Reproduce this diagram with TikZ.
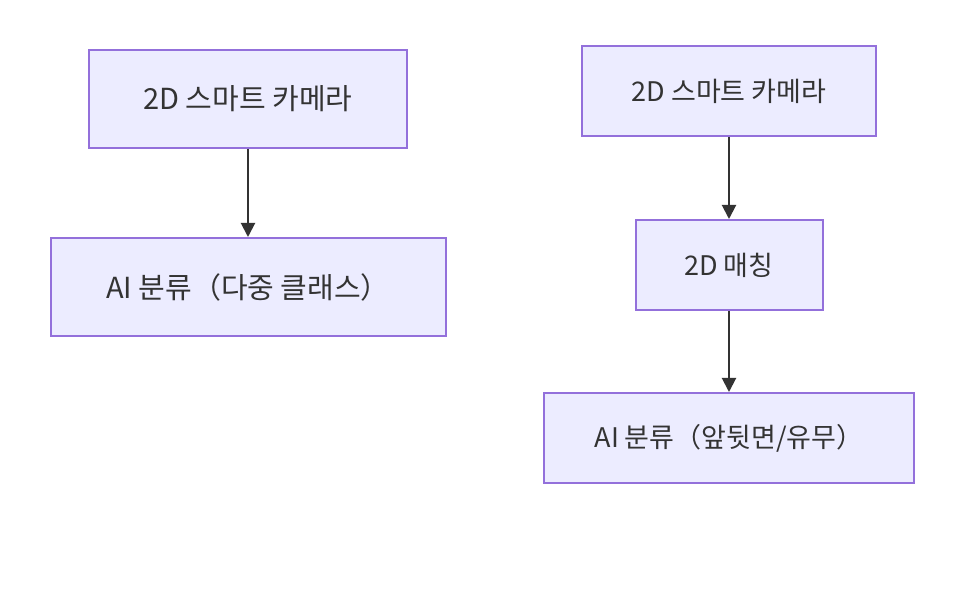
\documentclass[tikz,border=0pt]{standalone}
\usepackage{fontspec}
\setmainfont{Noto Sans CJK KR}
\usetikzlibrary{arrows.meta}
\definecolor{boxfill}{HTML}{ECECFF}
\definecolor{boxline}{HTML}{9370DB}
\definecolor{ink}{HTML}{333333}
\begin{document}
\begin{tikzpicture}[x=1pt,y=-1pt,
  box/.style={draw=boxline,fill=boxfill,line width=2pt,text=ink,inner sep=0pt,font=\fontsize{29}{32}\selectfont},
  conn/.style={draw=ink,line width=2pt,-{Triangle[length=14pt,width=14pt]}}]
\path[use as bounding box,fill=white] (0,0) rectangle (962,601);
\node[box,minimum width=318pt,minimum height=98pt] (a1) at (248,99) {2D 스마트 카메라};
\node[box,minimum width=395pt,minimum height=98pt] (a2) at (248,287) {AI 분류（다중 클래스）};
\node[box,minimum width=294pt,minimum height=90pt,font=\fontsize{27}{30}\selectfont] (b1) at (729,91) {2D 스마트 카메라};
\node[box,minimum width=187pt,minimum height=90pt,font=\fontsize{27}{30}\selectfont] (b2) at (729,265) {2D 매칭};
\node[box,minimum width=370pt,minimum height=90pt,font=\fontsize{27}{30}\selectfont] (b3) at (729,438) {AI 분류（앞뒷면/유무）};
\draw[conn] (a1) -- (a2);
\draw[conn] (b1) -- (b2);
\draw[conn] (b2) -- (b3);
\end{tikzpicture}
\end{document}
